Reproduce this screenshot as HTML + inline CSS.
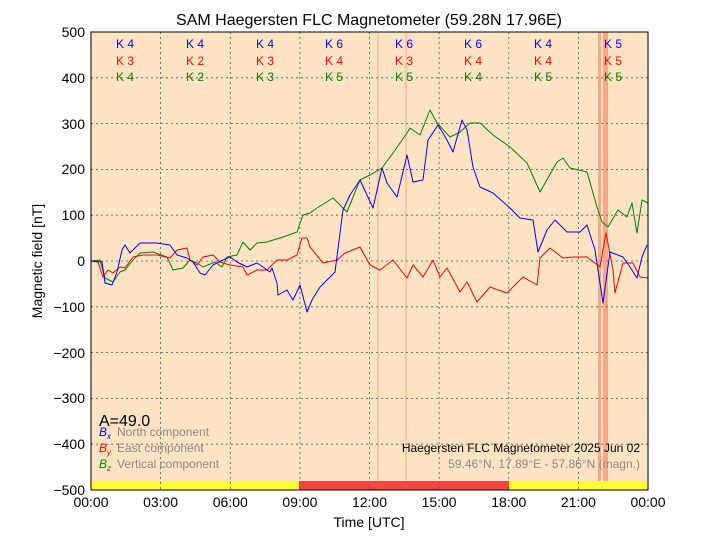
<!DOCTYPE html>
<html><head><style>body{margin:0;background:#fff}svg{display:block}text{font-family:"Liberation Sans",sans-serif}</style></head><body>
<svg width="720" height="540" viewBox="0 0 720 540">
<rect x="0" y="0" width="720" height="540" fill="#fff"/>
<rect x="91" y="32" width="557" height="458" fill="#ffe4c4"/>
<rect x="91" y="481" width="208" height="9" fill="#ffff33"/>
<rect x="299" y="481" width="210" height="9" fill="#ff4444"/>
<rect x="509" y="481" width="139" height="9" fill="#ffff33"/>
<g fill="#ff8060" opacity="0.6"><rect x="377.5" y="32" width="1" height="449"/><rect x="405.5" y="32" width="1" height="449"/><rect x="598" y="32" width="3" height="449"/><rect x="603" y="32" width="5" height="449"/></g>
<g stroke="#555" stroke-dasharray="2,3" stroke-width="0.8">
<line x1="160.6" y1="32" x2="160.6" y2="490"/><line x1="230.3" y1="32" x2="230.3" y2="490"/><line x1="299.9" y1="32" x2="299.9" y2="490"/><line x1="369.5" y1="32" x2="369.5" y2="490"/><line x1="439.1" y1="32" x2="439.1" y2="490"/><line x1="508.8" y1="32" x2="508.8" y2="490"/><line x1="578.4" y1="32" x2="578.4" y2="490"/>
<line x1="91" y1="77.8" x2="648" y2="77.8"/><line x1="91" y1="123.6" x2="648" y2="123.6"/><line x1="91" y1="169.4" x2="648" y2="169.4"/><line x1="91" y1="215.2" x2="648" y2="215.2"/><line x1="91" y1="261" x2="648" y2="261"/><line x1="91" y1="306.8" x2="648" y2="306.8"/><line x1="91" y1="352.6" x2="648" y2="352.6"/><line x1="91" y1="398.4" x2="648" y2="398.4"/><line x1="91" y1="444.2" x2="648" y2="444.2"/>
</g>
<g fill="none" stroke-width="1" stroke-linejoin="round">
<polyline stroke="#008000" points="91,261 100,260 105,278 113,282 120,272 125,270 133,260 140,253 153,252 167,257 173,270 183,268 190,260 197,263 203,267 215,262 222,267 227,257 237,255 243,242 250,250 257,243 267,242 283,237 297,232 303,215 310,213 317,208 333,198 347,212 360,180 370,175 382,168 393,153 407,133 410,128 420,135 430,110 437,123 450,137 460,132 470,123 480,123 493,135 510,147 527,163 540,192 557,162 563,158 570,168 587,172 597,207 602,222 608,227 618,210 627,217 632,203 637,233 642,200 648,203"/>
<polyline stroke="#ff0000" points="91,261 98,262 103,277 108,270 113,273 120,267 125,268 133,257 143,255 157,255 170,258 177,250 187,248 190,260 197,265 203,257 213,255 220,262 230,265 243,267 247,275 257,270 267,270 277,260 287,260 297,255 302,238 307,238 310,247 323,263 337,260 345,253 360,247 370,265 380,270 393,260 407,278 413,265 423,277 433,260 440,277 447,268 460,292 467,282 477,302 490,287 507,293 523,277 537,285 540,258 550,248 563,258 573,257 587,257 600,267 606,233 613,270 615,293 623,263 633,263 640,277 648,278"/>
<polyline stroke="#0000ff" points="91,261 102,262 105,283 112,285 117,272 122,250 125,245 130,253 140,243 157,243 170,245 177,255 187,258 193,262 200,273 205,275 213,265 223,260 230,257 237,262 247,267 257,263 263,267 270,272 272,268 277,283 278,295 287,290 293,300 300,285 307,312 312,300 320,287 335,272 343,210 350,195 360,180 373,208 382,168 387,183 397,197 407,155 413,182 423,180 428,140 438,125 447,140 453,152 462,120 467,130 473,167 480,187 493,193 510,208 520,218 533,220 538,252 547,230 555,220 567,232 580,232 587,225 595,250 603,303 610,252 623,257 630,267 637,278 642,257 647,245"/>
</g>
<rect x="91" y="32" width="557" height="458" fill="none" stroke="#000" stroke-width="1"/>
<g font-size="12" text-anchor="middle">
<g fill="#0000ff"><text x="125" y="48">K 4</text><text x="195" y="48">K 4</text><text x="265" y="48">K 4</text><text x="334" y="48">K 6</text><text x="404" y="48">K 6</text><text x="473" y="48">K 6</text><text x="543" y="48">K 4</text><text x="613" y="48">K 5</text></g>
<g fill="#ff0000"><text x="125" y="65">K 3</text><text x="195" y="65">K 2</text><text x="265" y="65">K 3</text><text x="334" y="65">K 4</text><text x="404" y="65">K 3</text><text x="473" y="65">K 4</text><text x="543" y="65">K 4</text><text x="613" y="65">K 5</text></g>
<g fill="#008000"><text x="125" y="81">K 4</text><text x="195" y="81">K 2</text><text x="265" y="81">K 3</text><text x="334" y="81">K 5</text><text x="404" y="81">K 5</text><text x="473" y="81">K 4</text><text x="543" y="81">K 5</text><text x="613" y="81">K 5</text></g>
</g>
<text x="369" y="25" font-size="16" text-anchor="middle">SAM Haegersten FLC Magnetometer (59.28N 17.96E)</text>
<g font-size="14" text-anchor="end"><text x="85" y="37">500</text><text x="85" y="83">400</text><text x="85" y="129">300</text><text x="85" y="174">200</text><text x="85" y="220">100</text><text x="85" y="266">0</text><text x="85" y="312">−100</text><text x="85" y="358">−200</text><text x="85" y="403">−300</text><text x="85" y="449">−400</text><text x="85" y="495">−500</text></g>
<g font-size="14" text-anchor="middle"><text x="91" y="507">00:00</text><text x="160.6" y="507">03:00</text><text x="230.3" y="507">06:00</text><text x="299.9" y="507">09:00</text><text x="369.5" y="507">12:00</text><text x="439.1" y="507">15:00</text><text x="508.8" y="507">18:00</text><text x="578.4" y="507">21:00</text><text x="648" y="507">00:00</text></g>
<text x="369" y="527" font-size="14" text-anchor="middle">Time [UTC]</text>
<text x="42" y="261" font-size="14" text-anchor="middle" transform="rotate(-90 42 261)">Magnetic field [nT]</text>
<text x="99" y="426" font-size="16">A=49.0</text>
<g font-size="12" fill="#888"><text x="117" y="436">North component</text><text x="117" y="452">East component</text><text x="117" y="468">Vertical component</text></g>
<g font-size="12" font-style="italic" font-family="Liberation Serif"><text x="99" y="436" fill="#0000ff">B<tspan font-size="8" dy="3">x</tspan></text><text x="99" y="452" fill="#ff0000">B<tspan font-size="8" dy="3">y</tspan></text><text x="99" y="468" fill="#008000">B<tspan font-size="8" dy="3">z</tspan></text></g>
<text x="640" y="452" font-size="12" text-anchor="end">Haegersten FLC Magnetometer 2025 Jun 02</text>
<text x="640" y="468" font-size="12" text-anchor="end" fill="#888">59.46°N, 17.89°E - 57.86°N (magn.)</text>
</svg>
</body></html>
